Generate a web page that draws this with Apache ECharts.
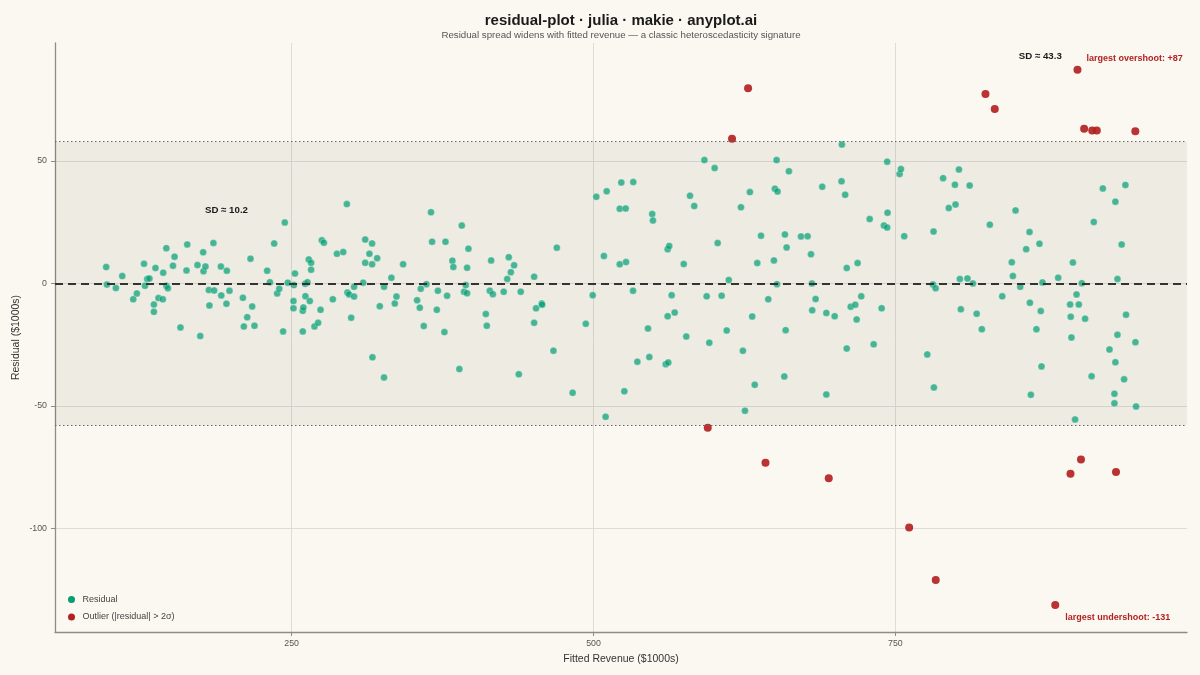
<!DOCTYPE html>
<html>
<head>
<meta charset="utf-8">
<title>residual-plot</title>
<script src="https://cdn.jsdelivr.net/npm/echarts@6/dist/echarts.min.js"></script>
<style>
  html, body { margin: 0; padding: 0; background: #faf8f1; }
  #main { width: 1200px; height: 675px; }
</style>
</head>
<body>
<div id="main"></div>
<script>
// fitted revenue ($1000s) and residual ($1000s)
var fitted = [
  96.4, 97, 104.4, 109.7, 118.8, 121.8, 127.7, 128.5, 130.4, 132.2, 137.2, 135.9, 135.9, 139.7, 143.3, 143.6,
  146.2, 146.2, 147.5, 151.7, 153, 157.9, 162.9, 163.5, 172, 174.3, 176.7, 177, 178.6, 181.4, 185.2, 185.8,
  181.9, 191.7, 191.4, 196, 196.3, 198.5, 209.6, 210.4, 213.2, 215.9, 217.3, 219.2, 229.7, 232, 235.5, 238,
  239.7, 242.9, 244.3, 246.8, 251.5, 251.5, 251.8, 252.7, 259.2, 259.7, 259.2, 261.2, 261.4, 263.1, 264.2,
  266.1, 266.1, 265, 268.9, 271.9, 273.9, 275, 276.7, 284.1, 287.5, 292.7, 295.7, 296.2, 297.6,
  299.3, 301.7, 301.7, 309.2, 310.9, 310.9, 314.4, 316.6, 316.6, 320.8, 316.9, 323, 326.5, 326.5, 332.6,
  335.4, 336.8, 342.3, 353.9, 356.1, 356.9, 359.4, 361.6, 365.4, 366.3, 370.2, 371.1, 376.5, 377.4, 378.7,
  383.1, 383.9, 388.9, 390.9, 392.8, 394.2, 395.3, 395.3, 396.4, 410.8, 411.6, 414.1, 415.2, 416.6, 425.6,
  428.5, 429.8, 431.5, 434.2, 438.1, 439.7, 450.8, 450.8, 452.4, 457.1, 457.4, 466.8, 469.6, 482.7,
  499.3, 493.6, 502.3, 510.9, 508.6, 510, 521.7, 523, 526.6, 532.9, 521.7, 526.9, 532.7, 525.5, 536.3,
  545.1, 546.2, 548.6, 549.2, 559.8, 561.9, 561.4, 562.7, 561.4, 564.7, 567.2, 574.7, 576.8, 579.9, 583.4,
  591.8, 593.7, 595.9, 600.3, 602.8, 606.1, 610.3, 612, 622.1, 623.7, 625.4, 629.5, 631.4, 633.5, 635.6,
  638.7, 644.7, 649.4, 650.2, 651.6, 652.4, 651.9,
  661.8, 658.5, 659.9, 659.1, 658, 671.8, 677.3, 680.1, 689.4, 680.9, 683.9, 681.1, 692.8, 699.7, 692.8,
  705.7, 705.4, 708.4, 709.7, 718.7, 709.7, 713, 716.8, 717.9, 721.7, 728.7, 732, 738.6, 740.5, 743.2,
  743.5, 743.2, 753.5, 754.6, 757.3, 776.4, 781.9, 781.6, 781.1, 783.3, 789.5, 794.2, 799.8, 799.3, 802.6,
  811.5, 803.4, 809.7, 814.2, 804.2, 817.3, 821.6, 828.2,
  838.5, 846.4, 847.3, 849.5, 853.4, 858.3, 861.1, 861.4, 869.3, 866.8, 870.4, 871.8, 871, 862.2, 884.8,
  897, 894.7, 901.9, 900, 904.4, 895.2, 907.1, 895.8, 898.8, 912.5, 914.3, 921.8, 932.2, 940.5, 937.4,
  933.9, 941, 933.9, 927.3, 932.2, 939.4, 948.8, 931.4, 931.4, 949.3
];
var residual = [
  6.7, -0.5, -1.9, 3.0, -6.5, -4.1, 8.0, -1, 1.8, 2, 6.3, -8.6, -11.6, -6, -6.5, 4.4,
  14.4, -1, -2, 7.2, 10.9, -18, 5.3, 15.9, 7.5, -21.5, 12.7, 5, 6.9, -2.7, 16.5, -2.9,
  -9, -4.9, 6.9, -8.3, 5.2, -3, -5.9, -17.6, -13.8, 10.1, -9.4, -17.3, 5.2, 0.5, 16.3, -4.1,
  -2.2, -19.6, 24.9, 0.3, -7.2, -10.2, -0.7, 4.0, -11.2, -9.8, -19.6, -0.1, -5.2, 0.5, 9.8,
  8.4, 5.6, -7.2, -17.6, -16.1, -10.8, 17.6, 16.6, -6.5, 12.1, 12.8, 32.4, -3.7, -4.5,
  -14, -5.4, -1.4, 0.3, 17.9, 8.4, 12.1, 16.3, 7.8, 10.3, -30.2, -9.3, -1.4, -38.4, 2.3,
  -8.2, -5.4, 7.8, -6.9, -9.9, -2.2, -17.4, -0.3, 29.1, 17, -10.8, -3, -19.9, 17, -5,
  9.3, 6.7, -35, 23.6, -3.4, -0.7, -4, 6.4, 14.2, -12.5, -17.3, -3, 9.4, -4.4, -3.4,
  1.8, 10.7, 4.6, 7.4, -37.1, -3.4, 2.7, -16.1, -10.2, -8.2, -8.7, -27.5, 14.6, -44.7,
  -4.8, -16.5, 35.4, 37.6, 11.2, -54.5, 30.5, 41.2, 30.6, 41.4, 7.8, 8.7, -3, -44.1, -32,
  -18.4, -30.1, 28.3, 25.7, -33, -32.3, 14, 15.3, -13.4, -4.8, -11.9, 7.9, -21.7, 35.8, 31.6,
  50.4, -5.3, -24.2, 47.1, 16.5, -5, -19.2, 1.4, 31.1, -27.5, -52, 37.3, -13.5, -41.4, 8.3,
  19.5, -6.5, 9.4, 38.7, 50.4, 37.5, -0.3,
  45.8, 20, 14.7, -19.1, -38, 19.2, 19.3, 11.9, 39.5, 0, -6.4, -11, -12.1, -13.4, -45.4,
  56.7, 41.7, 36.2, 6.3, 8.3, -26.6, -9.5, -8.7, -14.7, -5.3, 26.3, -24.9, -10.2, 23.6, 22.8,
  28.9, 49.7, 44.7, 46.7, 19.3, -29, -42.5, 21.2, -0.4, -2, 43, 30.8, 32.2, 40.3, 46.5,
  40, 1.8, 2, 0, -10.6, -12.4, -18.7, 24,
  -5.3, 8.6, 3, 29.8, -1.4, 14, 21, -7.9, 16.2, -18.7, -11.3, 0.4, -33.9, -45.5, 2.3,
  8.5, -8.6, -8.6, -4.5, 0.1, -13.6, -14.4, -22.1, -55.6, -37.9, 25.1, 38.8, 33.4, 40.2, 15.9,
  1.8, -12.8, -21, -27, -32.2, -39.2, -24, -45.1, -49, -50.3
];

// points beyond the 2 sigma band
var outlierFitted = [628, 614.7, 594.6, 642.4, 694.8, 761.4, 783.4, 882.4, 895, 903.7, 932.7,
  824.6, 832.3, 900.8, 906.3, 913, 916.8, 948.7];
var outlierResidual = [79.7, 59.1, -59, -73.3, -79.6, -99.7, -121.2, -131.4, -77.8, -71.9, -77,
  77.4, 71.2, 87.3, 63.2, 62.5, 62.5, 62.2];

var twoSigma = 57.9;
var xTicks = [250, 500, 750];
var yTicks = [-100, -50, 0, 50];
var sdLabels = [
  { text: 'SD \u2248 10.2', x: 196, y: 30 },
  { text: 'SD \u2248 43.3', x: 870, y: 92.6 }
];

var teal = '#009E73';
var red = '#B22222';
var font = '"Liberation Sans", Arial, Helvetica, sans-serif';

var residData = [];
for (var i = 0; i < fitted.length; i++) {
  residData.push([fitted[i], residual[i]]);
}
var outData = [];
var hi = 0, lo = 0;
for (var j = 0; j < outlierFitted.length; j++) {
  outData.push([outlierFitted[j], outlierResidual[j]]);
  if (outlierResidual[j] > outlierResidual[hi]) hi = j;
  if (outlierResidual[j] < outlierResidual[lo]) lo = j;
}

var chart = echarts.init(document.getElementById('main'));

var option = {
  backgroundColor: '#faf8f1',
  animation: false,
  textStyle: { fontFamily: font },
  graphic: [
    {
      type: 'text', x: 621, y: 21,
      style: {
        text: 'residual-plot \u00b7 julia \u00b7 makie \u00b7 anyplot.ai',
        font: 'bold 15px ' + font, fill: '#1a1a1a',
        textAlign: 'center', textVerticalAlign: 'middle'
      }
    },
    {
      type: 'text', x: 621, y: 35,
      style: {
        text: 'Residual spread widens with fitted revenue \u2014 a classic heteroscedasticity signature',
        font: '9.7px ' + font, fill: '#555',
        textAlign: 'center', textVerticalAlign: 'middle'
      }
    }
  ],
  grid: { left: 55, right: 13, top: 43, bottom: 43 },
  legend: {
    orient: 'vertical',
    left: 63, top: 589,
    icon: 'circle',
    itemWidth: 12, itemHeight: 7, itemGap: 6.4,
    textStyle: { fontFamily: font, fontSize: 9, lineHeight: 11, color: '#444' },
    data: [
      { name: 'Residual', itemStyle: { color: teal, opacity: 1, borderWidth: 0 } },
      { name: 'Outlier (|residual| > 2\u03c3)', itemStyle: { color: red, opacity: 1, borderWidth: 0 } }
    ]
  },
  xAxis: {
    type: 'value',
    min: 54,
    max: 991.5,
    name: 'Fitted Revenue ($1000s)',
    nameLocation: 'middle',
    nameGap: 22,
    nameTextStyle: { fontFamily: font, fontSize: 10.5, color: '#333' },
    axisLine: { show: true, onZero: false, lineStyle: { color: '#8c8c8c', width: 1.3 } },
    axisTick: { show: true, length: 4, customValues: xTicks, lineStyle: { color: '#8c8c8c' } },
    axisLabel: { customValues: xTicks, margin: 7, fontSize: 8.8, color: '#555', fontFamily: font },
    splitLine: { show: true, lineStyle: { color: '#dedcd6', width: 1 } }
  },
  yAxis: {
    type: 'value',
    min: -142.4,
    max: 98.2,
    name: 'Residual ($1000s)',
    nameLocation: 'middle',
    nameGap: 33,
    nameMoveOverlap: false,
    nameTextStyle: { fontFamily: font, fontSize: 10.5, color: '#333' },
    axisLine: { show: true, onZero: false, lineStyle: { color: '#8c8c8c', width: 1.3 } },
    axisTick: { show: true, length: 4, customValues: yTicks, lineStyle: { color: '#8c8c8c' } },
    axisLabel: { customValues: yTicks, margin: 8, fontSize: 8.8, color: '#555', fontFamily: font },
    splitLine: { show: true, lineStyle: { color: '#dedcd6', width: 1 } }
  },
  series: [
    {
      name: 'Residual',
      type: 'scatter',
      symbolSize: 7,
      data: residData,
      itemStyle: { color: teal, opacity: 0.7, borderColor: '#ffffff', borderWidth: 0.4 },
      z: 3,
      markArea: {
        silent: true,
        itemStyle: { color: 'rgba(60,55,30,0.065)' },
        data: [[{ yAxis: -twoSigma }, { yAxis: twoSigma }]]
      },
      markLine: {
        silent: true,
        symbol: 'none',
        label: { show: false },
        data: [
          { yAxis: twoSigma, lineStyle: { color: '#666', type: [1.5, 2.5], width: 1 } },
          { yAxis: -twoSigma, lineStyle: { color: '#666', type: [1.5, 2.5], width: 1 } },
          { yAxis: 0, lineStyle: { color: '#333', type: [8, 5], width: 2 } }
        ]
      },
      markPoint: {
        silent: true,
        symbol: 'circle',
        symbolSize: 0,
        label: {
          show: true, position: 'inside',
          fontFamily: font, fontSize: 9.7, fontWeight: 'bold', color: '#1a1a1a'
        },
        data: sdLabels.map(function(s) {
          return { coord: [s.x, s.y], value: s.text, label: { formatter: s.text } };
        })
      }
    },
    {
      name: 'Outlier (|residual| > 2\u03c3)',
      type: 'scatter',
      symbolSize: 8,
      data: outData,
      itemStyle: { color: red, opacity: 0.92 },
      z: 4,
      markPoint: {
        silent: true,
        symbol: 'circle',
        symbolSize: 0,
        label: {
          show: true,
          fontFamily: font, fontSize: 9, fontWeight: 'bold', color: red,
          align: 'left'
        },
        data: [
          {
            coord: outData[hi],
            label: { formatter: 'largest overshoot: +' + Math.round(outlierResidual[hi]), offset: [9, -11], position: 'inside' }
          },
          {
            coord: outData[lo],
            label: { formatter: 'largest undershoot: ' + Math.round(outlierResidual[lo]), offset: [10, 12], position: 'inside' }
          }
        ]
      }
    }
  ]
};

chart.setOption(option);
</script>
</body>
</html>
